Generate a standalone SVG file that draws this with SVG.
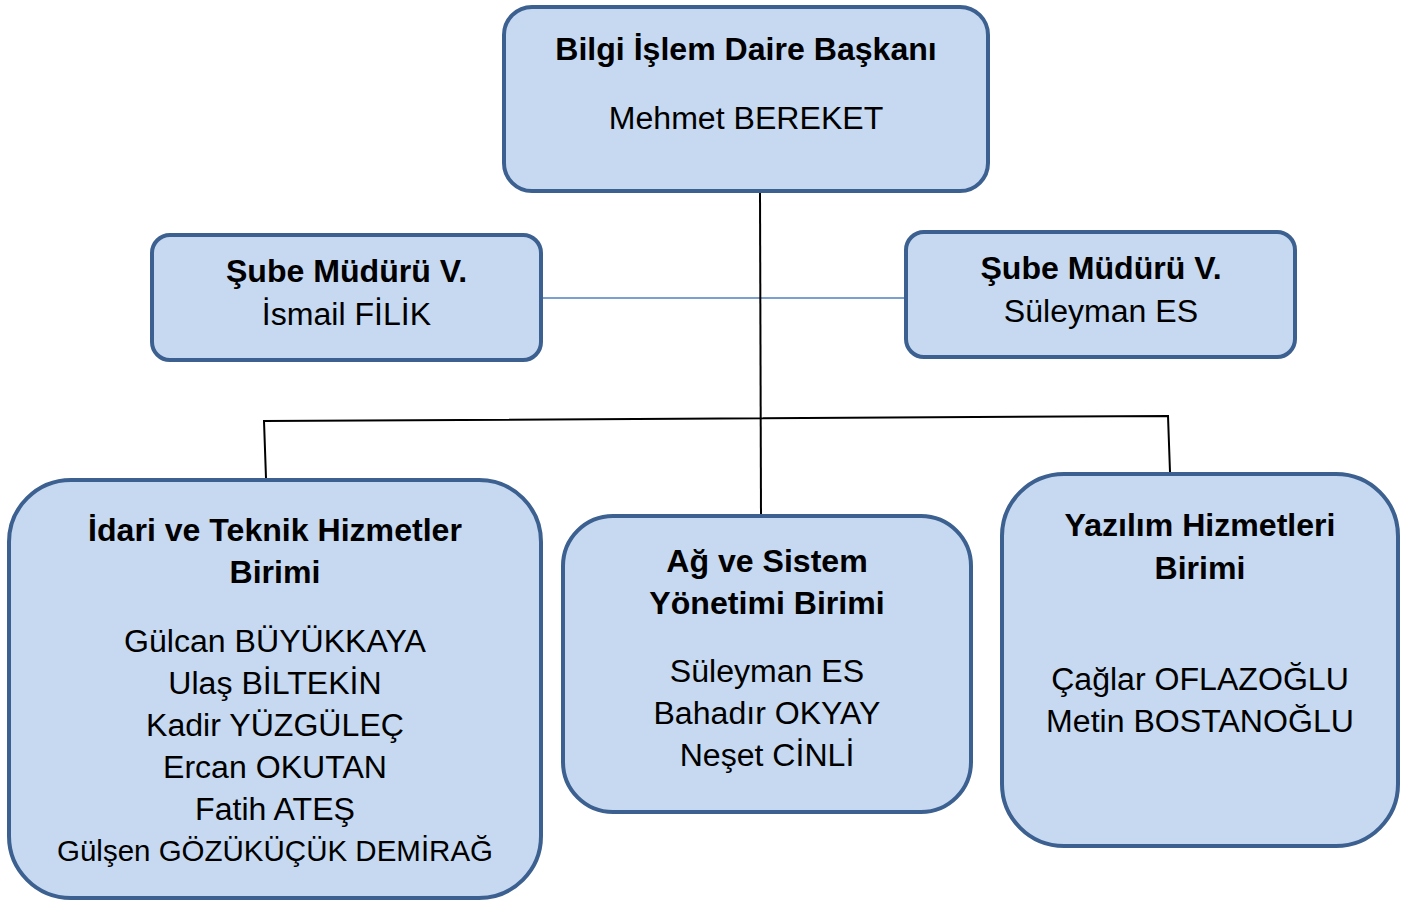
<svg xmlns="http://www.w3.org/2000/svg" width="1411" height="904" viewBox="0 0 1411 904">
<style>
.box{fill:#c6d9f1;stroke:#3c6090;stroke-width:4}
.t{font-family:"Liberation Sans",Arial,sans-serif;font-size:32.1px;fill:#000;text-anchor:middle}
.b{font-weight:bold}
.blk{stroke:#000;stroke-width:2;fill:none}
.blu{stroke:#4f81bd;stroke-width:1.5;fill:none}
</style>
<rect width="1411" height="904" fill="#fff"/>
<g id="connectors">
<line class="blu" x1="543" y1="298" x2="905" y2="298"/>
<line class="blk" x1="760" y1="192" x2="761" y2="515"/>
<polyline class="blk" points="266,478 264,421 1168,416 1170,472"/>
</g>
<g id="head">
<rect class="box" x="504" y="7" width="484" height="184" rx="28"/>
<text class="t b" x="746" y="60">Bilgi İşlem Daire Başkanı</text>
<text class="t" x="746" y="129">Mehmet BEREKET</text>
</g>
<g id="mgr-left">
<rect class="box" x="152" y="235" width="389" height="125" rx="18"/>
<text class="t b" x="346.5" y="282">Şube Müdürü V.</text>
<text class="t" x="346.5" y="325">İsmail FİLİK</text>
</g>
<g id="mgr-right">
<rect class="box" x="906" y="232" width="389" height="125" rx="18"/>
<text class="t b" x="1101" y="279">Şube Müdürü V.</text>
<text class="t" x="1101" y="322">Süleyman ES</text>
</g>
<g id="unit-idari">
<rect class="box" x="9" y="480" width="532" height="418" rx="62"/>
<text class="t b" x="275" y="541">İdari ve Teknik Hizmetler</text>
<text class="t b" x="275" y="583">Birimi</text>
<text class="t" x="275" y="652">Gülcan BÜYÜKKAYA</text>
<text class="t" x="275" y="694">Ulaş BİLTEKİN</text>
<text class="t" x="275" y="736">Kadir YÜZGÜLEÇ</text>
<text class="t" x="275" y="778">Ercan OKUTAN</text>
<text class="t" x="275" y="820">Fatih ATEŞ</text>
<text class="t" x="275" y="861" style="font-size:29.5px">Gülşen GÖZÜKÜÇÜK DEMİRAĞ</text>
</g>
<g id="unit-ag">
<rect class="box" x="563" y="516" width="408" height="296" rx="50"/>
<text class="t b" x="767" y="572">Ağ ve Sistem</text>
<text class="t b" x="767" y="614">Yönetimi Birimi</text>
<text class="t" x="767" y="682">Süleyman ES</text>
<text class="t" x="767" y="724">Bahadır OKYAY</text>
<text class="t" x="767" y="766">Neşet CİNLİ</text>
</g>
<g id="unit-yazilim">
<rect class="box" x="1002" y="474" width="396" height="372" rx="62"/>
<text class="t b" x="1200" y="536">Yazılım Hizmetleri</text>
<text class="t b" x="1200" y="579">Birimi</text>
<text class="t" x="1200" y="690">Çağlar OFLAZOĞLU</text>
<text class="t" x="1200" y="732">Metin BOSTANOĞLU</text>
</g>
</svg>
